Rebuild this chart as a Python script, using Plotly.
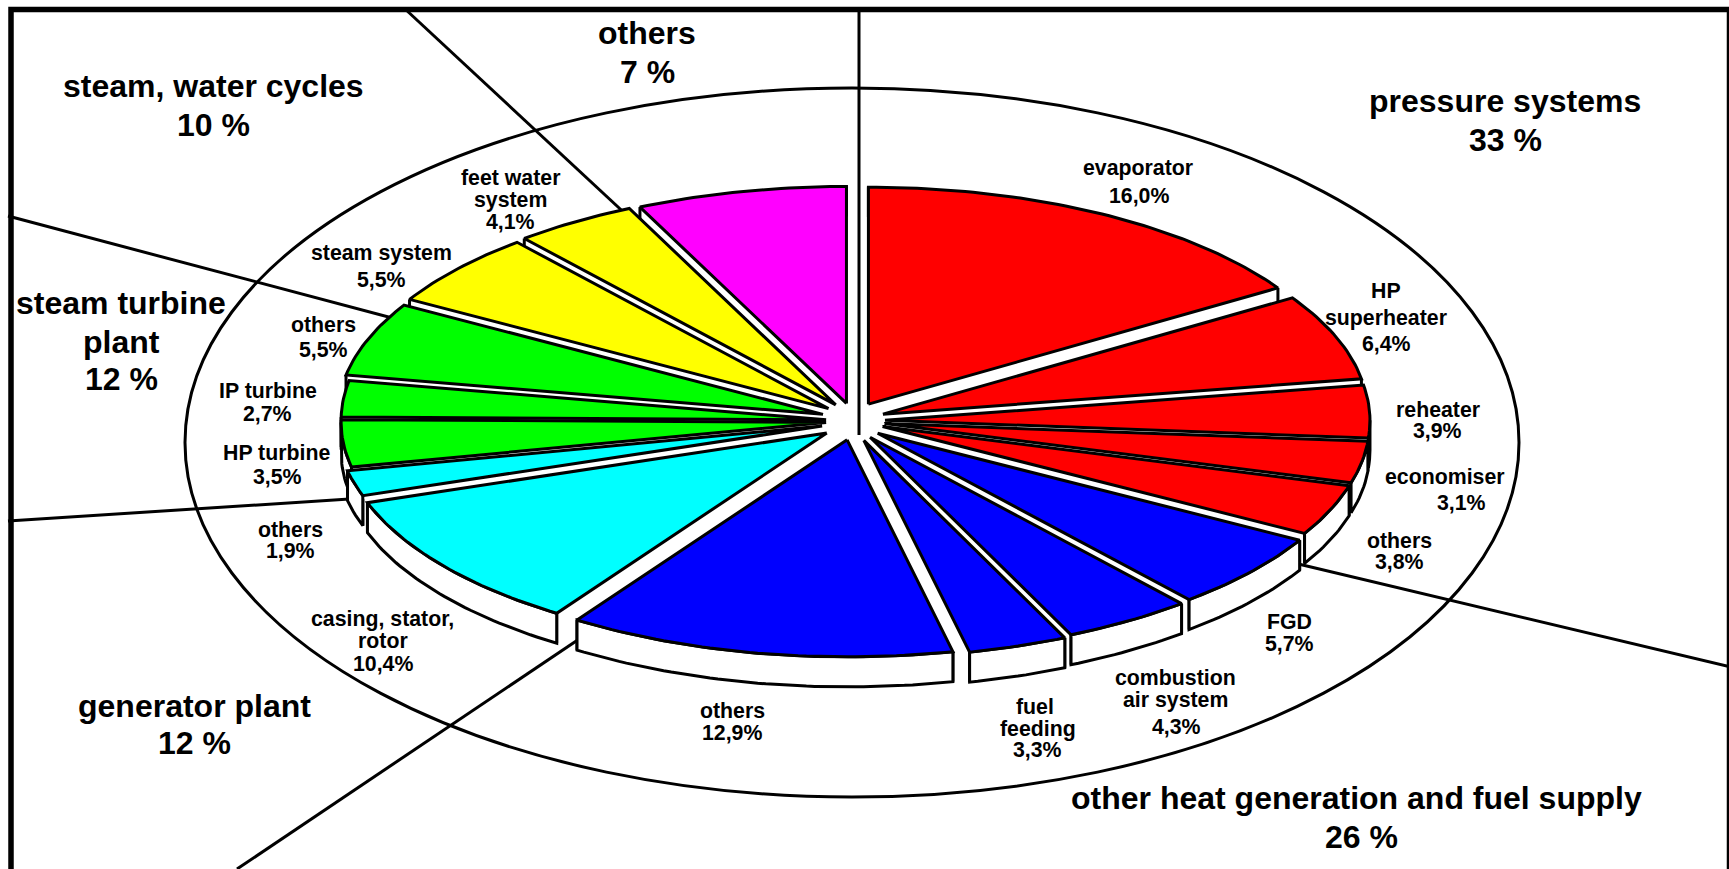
import math
import plotly.graph_objects as go

# ---- data (clockwise from 12 o'clock) ----
slice_values = [16.0, 6.4, 3.9, 3.1, 3.8, 5.7, 4.3, 3.3, 12.9, 10.4, 1.9, 3.5, 2.7, 5.5, 5.5, 4.1, 7.0]
slice_shift_x = [32, 32, 32, 32, 32, 32, 32, 34, 32, 33, 32, 27, 27, 32, 32, 32, 30]
slice_shift_y = [32, 32, 28, 24, 24, 32, 32, 34, 32, 33, 32, 24, 20, 32, 32, 32, 30]
slice_colors = ["#ff0000"] * 5 + ["#0000ff"] * 4 + ["#00ffff"] * 2 + ["#00ff00"] * 3 + ["#ffff00"] * 2 + ["#ff00ff"]

group_labels = [
    ("others", 587, 30), ("7 %", 587, 65),
    ("steam, water cycles", 194, 78), ("10 %", 194, 113),
    ("pressure systems", 1365, 92), ("33 %", 1365, 127),
    ("steam turbine", 110, 275), ("plant", 110, 310), ("12 %", 110, 344),
    ("generator plant", 176, 640), ("12 %", 176, 674),
    ("other heat generation and fuel supply", 1230, 724), ("26 %", 1235, 759),
]
slice_labels = [
    ("evaporator", 1032, 152), ("16,0%", 1033, 178),
    ("HP", 1257, 264), ("superheater", 1257, 288), ("6,4%", 1257, 312),
    ("reheater", 1304, 372), ("3,9%", 1304, 391),
    ("economiser", 1310, 433), ("3,1%", 1325, 456),
    ("others", 1269, 491), ("3,8%", 1269, 510),
    ("FGD", 1169, 564), ("5,7%", 1169, 584),
    ("combustion", 1066, 615), ("air system", 1066, 635), ("4,3%", 1067, 659),
    ("fuel", 939, 641), ("feeding", 941, 661), ("3,3%", 941, 680),
    ("others", 664, 645), ("12,9%", 664, 665),
    ("casing, stator,", 347, 561), ("rotor", 347, 581), ("10,4%", 347, 602),
    ("others", 263, 481), ("1,9%", 263, 500),
    ("HP turbine", 251, 411), ("3,5%", 252, 433),
    ("IP turbine", 243, 355), ("2,7%", 243, 375),
    ("others", 293, 295), ("5,5%", 293, 317),
    ("steam system", 346, 229), ("5,5%", 346, 254),
    ("feet water", 463, 161), ("system", 463, 181), ("4,1%", 463, 201),
]
divider_lines = [
    ((859, 8), (859, 435)),
    ((1729, 666.5), (1290, 562)),
    ((237, 869), (600, 625)),
    ((8, 521), (380, 497)),
    ((8, 216), (430, 328)),
    ((404, 8), (660, 246)),
]

# ---- geometry of the tilted pie ----
LABEL_SCALE = 1729 / 1568
CX, CY = 853, 421
RX, RY = 485, 217
DEPTH = 30
EXPLODE_K = 0.6
LW = 3

fig = go.Figure()


def add_poly(xs, ys, fill, width=LW):
    fig.add_trace(go.Scatter(x=xs, y=ys, mode="lines", fill="toself", fillcolor=fill,
                             line=dict(color="black", width=width, shape="linear"),
                             hoverinfo="skip", showlegend=False))


def add_line(xs, ys, width=LW):
    fig.add_trace(go.Scatter(x=xs, y=ys, mode="lines", line=dict(color="black", width=width),
                             hoverinfo="skip", showlegend=False))


for (x1, y1), (x2, y2) in divider_lines:
    add_line([x1, x2], [y1, y2], 3)

total = sum(slice_values)
slices = []
cum = 0.0
for value, color, sx, sy in zip(slice_values, slice_colors, slice_shift_x, slice_shift_y):
    a0 = cum / total * 2 * math.pi
    cum += value
    a1 = cum / total * 2 * math.pi
    slices.append((a0, a1, color, sx, sy))

# paint from back to front
for a0, a1, color, sx, sy in sorted(slices, key=lambda s: -math.cos((s[0] + s[1]) / 2)):
    mid = (a0 + a1) / 2
    ax = CX + sx * math.sin(mid)
    ay = CY - sy * EXPLODE_K * math.cos(mid)
    n = max(4, int((a1 - a0) * 60))
    angles = [a0 + (a1 - a0) * i / n for i in range(n + 1)]
    px = [ax + RX * math.sin(t) for t in angles]
    py = [ay - RY * math.cos(t) for t in angles]
    # radial faces: white, only the outer vertical edge is stroked
    for ex, ey in ((px[0], py[0]), (px[-1], py[-1])):
        add_poly([ax, ex, ex, ax, ax], [ay, ey, ey + DEPTH, ay + DEPTH, ay], "white", 0)
        add_line([ex, ex], [ey, ey + DEPTH])
    # outer wall: only where the rim faces the viewer
    lo, hi = max(a0, math.pi / 2), min(a1, 3 * math.pi / 2)
    if hi > lo:
        m = max(3, int((hi - lo) * 60))
        ts = [lo + (hi - lo) * i / m for i in range(m + 1)]
        wx = [ax + RX * math.sin(t) for t in ts]
        wy = [ay - RY * math.cos(t) for t in ts]
        add_poly(wx + wx[::-1] + wx[:1], wy + [v + DEPTH for v in wy[::-1]] + wy[:1], "white")
    # top face
    add_poly([ax] + px + [ax], [ay] + py + [ay], color)

shapes = [
    dict(type="circle", xref="x", yref="y", x0=185, x1=1519, y0=88, y1=797,
         line=dict(color="black", width=3), fillcolor="rgba(0,0,0,0)", layer="below"),
    dict(type="rect", xref="x", yref="y", x0=11, y0=9.5, x1=1729.5, y1=885,
         line=dict(color="black", width=5.5), fillcolor="rgba(0,0,0,0)", layer="above"),
]

annotations = []
for labels, size in ((group_labels, 32), (slice_labels, 21.3)):
    for text, x, y in labels:
        annotations.append(dict(text="<b>" + text + "</b>", x=x * LABEL_SCALE, y=y * LABEL_SCALE,
                                xref="x", yref="y", showarrow=False, xanchor="center", yanchor="middle",
                                font=dict(family="Liberation Sans", size=size, color="black"),
                                borderpad=0))

fig.update_layout(
    width=1729, height=869, autosize=False,
    margin=dict(l=0, r=0, t=0, b=0),
    paper_bgcolor="white", plot_bgcolor="white",
    xaxis=dict(range=[0, 1729], visible=False, fixedrange=True),
    yaxis=dict(range=[869, 0], visible=False, fixedrange=True),
    shapes=shapes, annotations=annotations, showlegend=False,
)
fig.write_html("out.html", config={"displayModeBar": False},
               post_script="document.body.style.margin='0';document.documentElement.style.overflow='hidden';")
